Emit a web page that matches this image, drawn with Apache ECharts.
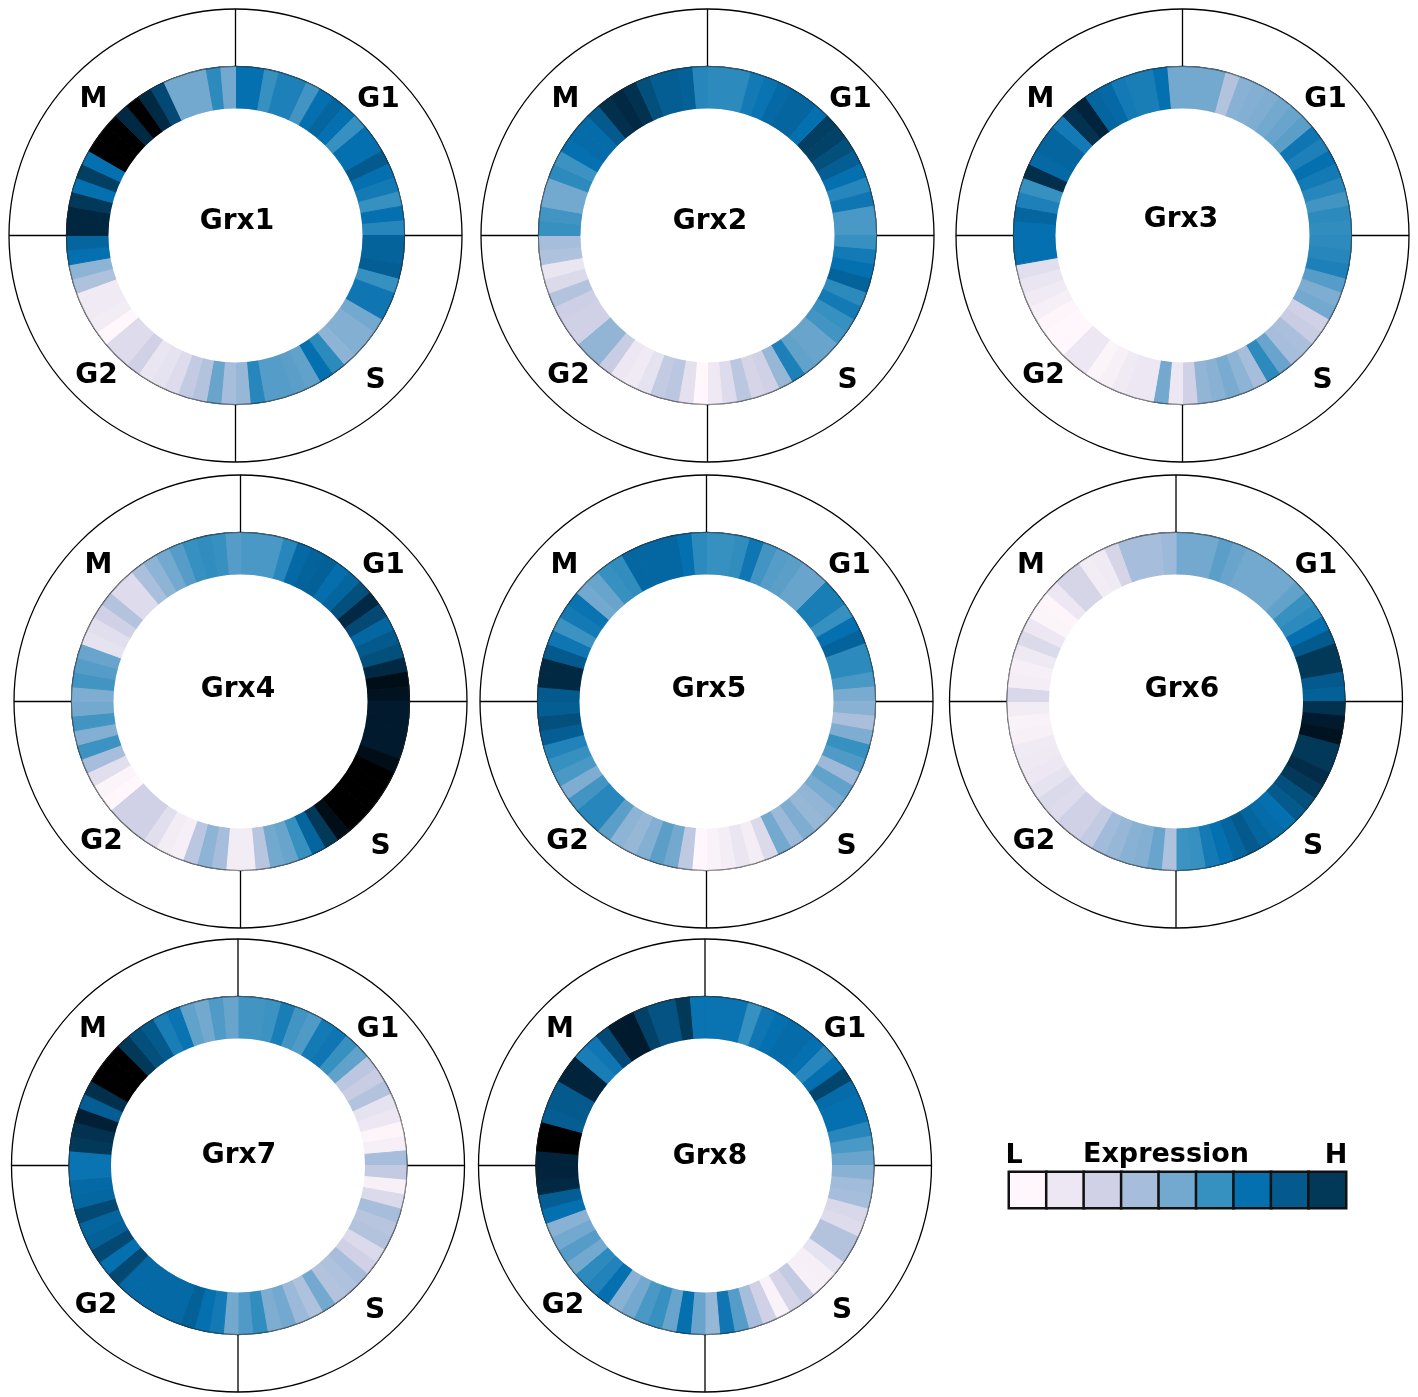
<!DOCTYPE html>
<html><head><meta charset="utf-8">
<style>html,body{margin:0;padding:0;background:#fff}#c{width:1418px;height:1397px}</style>
<script src="https://cdn.jsdelivr.net/npm/echarts@6/dist/echarts.min.js"></script>
</head><body><div id="c"></div>
<script>
// Expression level per 5-degree bin, clockwise from 12 o'clock (1 = low ... 9 = high, 10-11 = darker than scale)
const grx1 = [7,7,6,6.5,6.5,5.8,7,7.5,7,6,7,7,8,7,6.7,6,7,6.3,7.6,7.6,7.8,6,6.8,6.8,5,4.7,4.7,4.5,6.2,7,5.3,5.4,5.5,5.5,6.3,4.3,4,5.2,3.7,3.3,2.5,2.2,2.1,3,2.5,2.5,1,1.7,1.8,1.8,3.8,4.5,7,7.5,9.6,9.6,9,7,8.8,7,11,11,11,9.5,11,9.5,8.5,5,5,5,6.2,5];
const grx2 = [6.2,6.2,6.2,6.7,6.9,7.3,7.5,7.5,7,8.8,8.7,8.3,7.8,7,6.3,6.8,5.7,5.7,6,6.7,7,7.6,6.2,6.7,6,5.8,5.2,5.2,5.3,6.5,4.3,3,2.8,3.5,2.5,1.9,1,2.3,3.5,3.3,2.2,1.8,2,3.2,4.4,4.4,3,3,3.1,3.7,2.6,2.1,3.8,4,6,5.8,5,5,6.2,5.9,7,7.2,7.2,8,9.3,9.5,9.2,8.3,7.8,7.8,7.7,6.3];
const grx3 = [5,5,5,3.7,4.6,4.7,4.8,5,5.2,5.4,6.8,6.5,7,6.7,6.3,5.8,6.2,6.1,6.2,6.3,6.5,5.5,4.8,5,3,3.2,3.9,4,5.2,6.2,4,4.5,4.9,4.6,4.4,3,2,5,2,2,1.8,1.4,1.2,2,2,1,1,1.1,1.5,1.8,2.1,2.4,7,7,7,7.5,6.5,6,9.3,7.3,7.5,7.5,6.7,9.2,9.7,7.5,7.3,6.7,6.6,6.6,7,5];
const grx4 = [5.7,5.7,5.7,6.3,7.3,7.6,7.7,7.1,7.5,8.3,9.5,8.5,7.4,8,8.3,9.5,10.5,10.3,10,10,10,10,10.5,11,11,11,11,11,10.5,9,7.5,6,5.2,5,3.6,1.7,1.7,4,4.5,3.5,1.5,1.7,2.4,3,3,3,1,1.2,2.4,4,5.9,4.7,5.8,5,4.8,5.8,5.5,5.2,2.2,2.4,3,3.7,2.5,2.5,3.9,4.5,5,5.5,6,6.1,6,5.5];
const grx5 = [6,6,6.1,6.8,5.8,5.5,5.4,5.2,5.2,6.6,6.6,6,7,7.6,6.2,6.2,5.7,4.9,4.6,3.9,4.8,6,5.6,4.2,5.3,4.9,4.4,4.3,4.8,4.2,5,2.6,1.6,2.1,1.6,1.3,1,3.4,5,5.4,4.7,4.3,4.5,5.4,6.3,6.3,5.8,4.8,5.7,6,6.4,7.8,8.3,7.8,8,9.5,9.5,8,6.8,5.9,6.7,6.9,5,5.2,6,6.1,7.4,7.4,7.4,7.4,7,6.2];
const grx6 = [5,5,5,5.4,5.2,5,5,5,5,5.3,6,6.2,7,8,9,9,8,7.7,9.2,10,10.3,9,9,9.4,9,8.3,8,7,7.2,7.5,8,7.5,7,6.7,6,5.9,3.8,5.2,4.7,4.6,4.3,4.1,3.3,3,3,2.5,2.6,2.2,2,1.9,1.8,1.4,1.3,1.7,2.7,1.6,1.5,1.9,2.6,2,1.2,1.1,2,2.8,2.8,1.7,1.8,2.8,4,4,4,4.2];
const grx7 = [5.8,5.8,5.9,6.6,5.8,5.6,6.7,6.8,6,5.3,3.5,3.2,3.7,2.2,2,1.1,1.5,4,3.3,1.4,2.6,4,3.6,3.7,2.6,3,4,3.8,3.7,5,3.8,4.2,5,4.8,6.1,5.6,5,6.7,7,7.7,7.3,7.3,7.3,7.3,7.3,8.5,7,8.5,7.7,7.5,8.5,7.4,7.3,6.9,6.9,9,9.2,9.8,7.8,9.3,11,11,11,9,8.3,8,6.6,6.9,5.3,5,5.6,5.2];
const grx8 = [6.9,6.9,6.9,6,6.8,7,7.2,7.2,7,6.3,7,8.6,7.2,7,7,6.3,5.7,5.2,4.6,4.1,4,2.7,2.5,3.7,3.7,2.2,1.5,1.4,3.3,2.8,1.3,3,4,5.5,6.8,4.3,5.2,7,5.2,6,5.7,5,4.6,7,6.4,6.2,5,5.5,5,4.6,7,7.8,9.5,9.7,9.7,11,11,7.8,8,8,9.7,9.7,6.6,6.8,8.5,10,10,8.7,8.2,8.2,9,6.9];
const geneNames = ['Grx1','Grx2','Grx3','Grx4','Grx5','Grx6','Grx7','Grx8'];
const geneValues = [grx1,grx2,grx3,grx4,grx5,grx6,grx7,grx8];
const phaseNames = ['M','G1','G2','S'];
const legendLevels = [1,2,3,4,5,6,7,8,9];

// Colours and layout
const palette = ['#fff7fb','#ece7f2','#d0d1e6','#a6bddb','#74a9cf','#3690c0','#0570b0','#045a8d','#023858','#011a2e','#000000'];
const panels = [
  {c:[235.5,235.5],t:[237,222],d:0},{c:[707.5,235.5],t:[710,222],d:0},{c:[1182.5,235.5],t:[1181,220],d:0},
  {c:[240.5,701.5],t:[238,690],d:0},{c:[706.5,701.5],t:[709,690],d:0},{c:[1176,701.5],t:[1182,690],d:-3},
  {c:[238,1165.5],t:[239,1156],d:-3},{c:[705,1165.5],t:[710,1157],d:-3}
];
const phaseOffset = {M:[-142,-136],G1:[143,-136],G2:[-139,140],S:[140,145]};
const hex = s => [1,3,5].map(i=>parseInt(s.substr(i,2),16));
function colorOf(v){
  const i=Math.min(Math.floor(v),10), f=v-i;
  const a=hex(palette[i-1]), b=hex(palette[Math.min(i,10)]);
  return 'rgb('+a.map((x,k)=>Math.round(x+(b[k]-x)*f)).join(',')+')';
}
const FONT='"DejaVu Sans"';
const polar=[],angleAxis=[],radiusAxis=[],series=[],graphic=[];
panels.forEach((p,i)=>{
  polar.push({center:p.c,radius:[169,226.5]});
  angleAxis.push({polarIndex:i,type:'value',min:0,max:360,interval:90,startAngle:90,
    axisLine:{show:true,lineStyle:{color:'#000',width:1.3}},axisTick:{show:false},axisLabel:{show:false},
    splitLine:{show:true,lineStyle:{color:'#000',width:1.3}}});
  radiusAxis.push({polarIndex:i,type:'value',show:false,min:0,max:1,splitLine:{show:false}});
  series.push({type:'pie',silent:true,animation:false,center:p.c,radius:[127,169],startAngle:90,clockwise:true,
    label:{show:false},labelLine:{show:false},emphasis:{disabled:true},
    data:geneValues[i].map((v,k)=>({name:String(k*5),value:1,
      itemStyle:{color:colorOf(v),borderColor:colorOf(v),borderWidth:1,borderJoin:'round'}}))});
  series.push({type:'pie',silent:true,animation:false,center:p.c,radius:[168.6,169.6],
    label:{show:false},labelLine:{show:false},emphasis:{disabled:true},
    data:[{name:'edge',value:1,itemStyle:{color:'rgba(40,40,40,0.55)'}}]});
  series.push({type:'pie',silent:true,animation:false,center:p.c,radius:[0,127],
    label:{show:false},labelLine:{show:false},emphasis:{disabled:true},
    data:[{name:'hole',value:1,itemStyle:{color:'#fff'}}]});
  graphic.push({type:'text',x:p.t[0],y:p.t[1],z:10,silent:true,style:{text:geneNames[i],font:'bold 28px '+FONT,fill:'#000',align:'center',verticalAlign:'middle'}});
  phaseNames.forEach(n=>{
    graphic.push({type:'text',x:p.c[0]+phaseOffset[n][0]+p.d,y:p.c[1]+phaseOffset[n][1],silent:true,
      style:{text:n,font:'bold 28px '+FONT,fill:'#000',align:'center',verticalAlign:'middle'}});
  });
});
[['L',1014,1156],['Expression',1166,1155],['H',1336,1156]].forEach(t=>{
  graphic.push({type:'text',x:t[1],y:t[2],silent:true,style:{text:t[0],font:'bold 27px '+FONT,fill:'#000',align:'center',verticalAlign:'middle'}});
});
series.push({type:'heatmap',xAxisIndex:0,yAxisIndex:0,silent:true,animation:false,coordinateSystem:'cartesian2d',
  data:legendLevels.map((l,i)=>({value:[i,0,l],itemStyle:{color:palette[l-1],borderColor:'#111',borderWidth:2.5}}))});
const chart=echarts.init(document.getElementById('c'),null,{renderer:'canvas'});
chart.setOption({
  animation:false,backgroundColor:'#fff',
  polar,angleAxis,radiusAxis,
  grid:{left:1009,top:1172,width:337,height:36},
  xAxis:{type:'category',data:legendLevels.map(String),show:false},
  yAxis:{type:'category',data:['e'],show:false},
  series,graphic
});
</script></body></html>
